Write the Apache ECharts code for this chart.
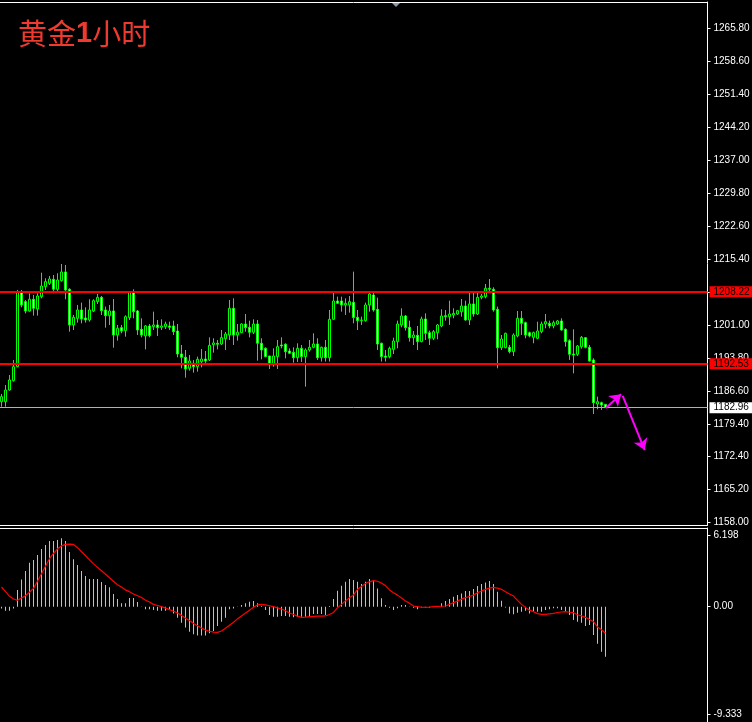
<!DOCTYPE html>
<html lang="zh">
<head>
    <meta charset="UTF-8">
    <title>黄金1小时</title>
    <script src="https://cdn.jsdelivr.net/npm/echarts@6/dist/echarts.min.js"></script>
    <style>
        html, body { margin: 0; padding: 0; background: #000; }
        #main { width: 752px; height: 722px; }
    </style>
</head>
<body>
<div id="main"></div>
<script type="text/javascript">
    // K线数据（开、收、低、高）
    var opens = [1184.26,1184.26,1186.81,1188.85,1191.9,1208.27,1206.09,1204.05,1206.6,1204.49,
        1207.18,1209.36,1210.09,1210.96,1208.78,1210.67,1212.56,1208.78,1201.0,1202.45,
        1204.27,1202.52,1202.09,1204.05,1206.09,1207.03,1204.27,1203.03,1204.05,1198.81,
        1200.41,1199.76,1202.6,1208.05,1204.05,1200.05,1198.6,1200.78,1200.63,1201.0,
        1200.49,1200.63,1200.78,1200.78,1199.68,1194.67,1193.94,1191.54,1192.63,1191.9,
        1192.99,1193.57,1193.36,1196.7,1197.0,1196.85,1198.01,1198.81,1204.63,1198.81,
        1199.32,1201.21,1200.49,1199.4,1201.21,1197.0,1195.9,1194.23,1192.41,1194.09,
        1196.63,1196.78,1195.32,1195.03,1193.87,1195.9,1194.09,1195.54,1196.12,1196.85,
        1193.87,1196.12,1193.87,1202.23,1206.23,1206.23,1205.36,1205.36,1205.94,1202.67,
        1201.94,1201.94,1205.36,1207.54,1204.41,1197.0,1194.23,1194.09,1195.68,1197.36,
        1201.0,1202.96,1200.49,1198.23,1198.74,1197.36,1202.3,1199.32,1198.09,1199.32,
        1200.78,1203.03,1202.81,1203.18,1203.39,1203.9,1205.14,1202.09,1205.58,1203.39,
        1207.03,1207.18,1209.0,1208.78,1204.41,1196.05,1196.05,1196.12,1195.18,1198.6,
        1202.45,1201.5,1199.32,1198.3,1198.09,1199.54,1201.21,1201.36,1200.78,1201.21,
        1201.87,1200.05,1197.58,1194.67,1194.6,1196.27,1198.23,1196.12,1193.36,1183.75,
        1184.05,1183.68];
    var closes = [1185.36,1186.81,1189.0,1191.9,1208.27,1205.36,1204.05,1206.6,1204.63,1207.32,
        1209.5,1210.45,1211.03,1208.78,1210.81,1212.56,1208.63,1201.0,1202.67,1204.27,
        1202.3,1202.09,1204.27,1206.3,1207.03,1204.12,1203.03,1204.05,1198.81,1200.27,
        1199.68,1202.81,1208.05,1203.9,1199.9,1198.81,1200.78,1198.67,1201.0,1200.41,
        1200.78,1201.21,1200.49,1199.54,1194.67,1193.94,1191.39,1193.14,1191.9,1193.5,
        1193.57,1193.14,1196.56,1197.07,1196.78,1198.23,1199.03,1204.63,1198.81,1199.4,
        1201.21,1200.41,1199.4,1201.21,1197.0,1195.54,1194.09,1192.41,1194.23,1196.27,
        1196.41,1195.18,1194.81,1193.87,1195.9,1194.09,1195.54,1196.12,1196.85,1193.87,
        1196.12,1193.87,1202.23,1206.23,1205.72,1205.36,1205.72,1206.09,1202.6,1201.94,
        1202.09,1205.36,1207.76,1204.27,1196.85,1194.09,1193.94,1195.9,1197.5,1201.21,
        1202.96,1200.41,1198.23,1198.81,1197.36,1202.3,1199.18,1198.09,1199.54,1201.0,
        1202.96,1202.81,1203.39,1203.54,1204.12,1205.14,1202.09,1205.58,1203.39,1207.03,
        1207.32,1209.0,1208.78,1204.27,1196.05,1197.94,1199.18,1195.18,1198.81,1202.45,
        1201.36,1198.81,1198.6,1199.32,1199.68,1201.21,1201.72,1200.78,1201.5,1201.87,
        1199.9,1197.36,1194.6,1194.45,1196.41,1198.3,1196.12,1193.14,1184.05,1184.26,
        1183.54,1182.96];
    var lows = [1183.17,1183.17,1186.66,1188.63,1191.75,1204.85,1203.54,1203.9,1203.03,1203.03,
        1206.81,1208.63,1209.72,1207.9,1208.27,1210.45,1206.6,1199.54,1199.9,1201.5,
        1201.36,1201.5,1201.72,1203.83,1205.58,1203.18,1200.41,1201.0,1196.05,1197.58,
        1199.18,1198.45,1202.09,1202.45,1198.81,1198.3,1195.68,1198.3,1199.9,1198.6,
        1199.9,1200.12,1199.9,1198.81,1193.94,1191.54,1189.5,1191.03,1190.59,1190.81,
        1191.75,1192.63,1193.14,1194.96,1195.68,1196.63,1195.54,1197.72,1196.63,1197.58,
        1199.18,1199.54,1198.3,1199.03,1193.21,1193.5,1193.94,1191.39,1191.9,1191.39,
        1195.9,1193.72,1194.67,1192.77,1192.92,1192.92,1187.54,1195.18,1195.9,1193.36,
        1193.0,1193.0,1193.0,1202.09,1205.58,1203.9,1203.18,1203.69,1201.36,1199.9,
        1201.0,1201.72,1203.9,1203.9,1195.54,1193.0,1193.0,1193.72,1194.67,1195.9,
        1200.49,1199.76,1197.36,1196.63,1195.54,1197.21,1197.72,1196.63,1197.72,1197.87,
        1200.49,1201.94,1201.0,1202.45,1203.18,1202.81,1201.94,1201.0,1202.81,1203.18,
        1206.6,1206.81,1208.05,1203.9,1191.54,1195.54,1195.9,1194.81,1194.23,1198.3,
        1198.81,1198.09,1198.3,1197.0,1197.87,1199.18,1200.27,1200.27,1200.27,1201.0,
        1199.76,1196.27,1193.36,1190.45,1194.23,1195.83,1195.9,1193.0,1181.57,1182.59,
        1182.45,1182.9];
    var highs = [1185.94,1187.9,1190.08,1193.36,1208.63,1208.63,1206.45,1207.9,1207.54,1207.9,
        1212.41,1211.18,1211.69,1211.9,1212.27,1214.3,1214.09,1209.0,1203.18,1205.36,
        1205.87,1204.85,1206.6,1206.6,1207.76,1207.32,1205.0,1205.36,1206.67,1201.0,
        1201.0,1203.1,1208.27,1208.78,1204.27,1202.45,1201.0,1201.21,1203.9,1202.09,
        1202.23,1201.72,1201.72,1201.94,1201.21,1196.63,1195.54,1194.45,1193.36,1194.09,
        1195.76,1195.32,1198.3,1198.09,1197.72,1199.9,1199.47,1206.45,1206.81,1201.21,
        1201.36,1203.39,1201.94,1202.23,1202.09,1198.09,1196.12,1194.23,1195.9,1197.72,
        1198.3,1197.0,1195.9,1196.12,1197.0,1196.63,1195.9,1197.72,1199.18,1198.09,
        1196.27,1197.72,1204.27,1208.27,1207.18,1207.18,1206.81,1207.32,1212.63,1204.27,
        1202.81,1205.87,1208.27,1208.27,1206.96,1197.14,1195.54,1196.27,1198.23,1201.94,
        1204.63,1203.18,1201.94,1199.68,1200.78,1202.81,1203.54,1199.76,1199.9,1201.21,
        1204.41,1204.27,1206.3,1204.63,1204.27,1206.67,1206.3,1208.27,1208.27,1208.05,
        1207.76,1209.94,1211.03,1209.21,1205.0,1198.81,1199.32,1196.63,1199.18,1204.05,
        1204.05,1201.72,1199.54,1199.54,1201.72,1201.72,1203.39,1201.94,1201.94,1202.09,
        1202.45,1200.27,1197.87,1200.05,1196.63,1198.6,1198.3,1196.63,1193.72,1185.36,
        1184.26,1183.75];

    // MACD 柱和信号线
    var macdHist = [-0.15,-0.35,-0.35,-0.15,1.44,2.36,3.08,3.8,4.03,4.47,
        4.98,5.33,5.68,5.68,5.76,5.91,5.68,4.72,4.09,3.6,
        3.08,2.65,2.39,2.39,2.39,2.13,1.87,1.67,1.09,0.66,
        0.29,0.29,0.75,0.75,0.4,0.02,-0.23,-0.23,-0.29,-0.35,
        -0.35,-0.35,-0.29,-0.58,-0.95,-1.38,-1.79,-2.16,-2.39,-2.5,
        -2.5,-2.5,-2.3,-2.1,-1.67,-1.3,-0.95,-0.23,-0.15,0.02,
        0.14,0.29,0.43,0.49,0.29,0.05,-0.29,-0.72,-0.86,-0.86,
        -0.81,-0.81,-0.86,-0.92,-0.86,-0.86,-0.86,-0.81,-0.63,-0.63,
        -0.63,-0.72,0.06,0.66,1.38,1.82,2.16,2.39,2.3,2.16,
        1.96,2.16,2.39,2.25,1.58,0.72,0.14,-0.09,-0.29,-0.14,
        0.14,0.14,0.02,-0.09,-0.23,-0.06,-0.06,-0.09,0.02,0.02,
        0.29,0.49,0.66,0.86,1.0,1.15,1.35,1.35,1.53,1.79,
        1.95,2.1,2.22,1.96,1.3,0.52,-0.06,-0.58,-0.66,-0.52,
        -0.43,-0.35,-0.58,-0.43,-0.43,-0.43,-0.29,-0.23,-0.14,-0.14,
        -0.29,-0.43,-0.72,-1.15,-1.3,-1.38,-1.67,-1.58,-2.44,-3.2,
        -3.89,-4.32];
    var macdSignal = [1.7,1.3,0.9,0.66,0.55,0.75,0.95,1.25,1.58,2.2,
        2.85,3.5,4.15,4.6,5.0,5.25,5.38,5.4,5.38,5.1,
        4.75,4.4,4.05,3.7,3.4,3.1,2.8,2.5,2.2,1.9,
        1.7,1.45,1.3,1.1,0.95,0.8,0.55,0.4,0.2,0.1,
        0,-0.12,-0.25,-0.4,-0.55,-0.75,-1.0,-1.2,-1.45,-1.65,
        -1.85,-2.02,-2.12,-2.2,-2.22,-2.1,-1.87,-1.6,-1.35,-1.05,
        -0.8,-0.55,-0.3,-0.05,0.15,0.2,0.15,0.08,0,-0.1,
        -0.2,-0.35,-0.55,-0.68,-0.82,-0.92,-0.9,-0.86,-0.84,-0.81,
        -0.81,-0.8,-0.68,-0.5,-0.1,0.2,0.5,0.78,1.0,1.5,
        1.75,2.0,2.15,2.25,2.2,2.05,1.8,1.45,1.2,1.0,
        0.75,0.5,0.3,0.05,0,-0.05,-0.06,-0.04,0,0.02,
        0.04,0.06,0.2,0.35,0.48,0.65,0.78,0.88,1.0,1.2,
        1.35,1.5,1.6,1.67,1.6,1.5,1.3,1.1,0.92,0.55,
        0.2,-0.06,-0.3,-0.43,-0.6,-0.66,-0.66,-0.62,-0.58,-0.5,
        -0.46,-0.43,-0.48,-0.52,-0.7,-0.8,-0.92,-1.1,-1.3,-1.75,
        -2.0,-2.3];

    // 坐标轴刻度
    var priceTicks = [1158.0,1165.2,1172.4,1179.4,1186.6,1193.8,1201.0,1208.2,
        1215.4,1222.6,1229.8,1237.0,1244.2,1251.4,1258.6,1265.8];
    var macdTicks = [6.198, 0, -9.333];
    var macdTickText = ['6.198', '0.00', '-9.333'];

    // 水平线：支撑/阻力与现价
    var levelLines = [1208.22, 1192.53];
    var lastPrice = 1182.96;

    // 手绘箭头（x 为K线序号）
    var arrowSegments = [
        [[151.1, 1182.9], [154.9, 1185.9]],
        [[155.3, 1185.5], [160.8, 1173.7]]
    ];

    var slots = 177;
    var cats = [];
    for (var i = 0; i < slots; i++) cats.push(String(i));
    var kdata = opens.map(function (o, i) { return [o, closes[i], lows[i], highs[i]]; });

    var myChart = echarts.init(document.getElementById('main'));

    var boxLabel = function (bg) {
        return {
            show: true, position: 'end', distance: 2,
            formatter: function (p) { return p.value.toFixed(2); },
            backgroundColor: bg, color: '#000', fontSize: 10,
            fontFamily: 'Liberation Sans', padding: [1, 4, 0, 4]
        };
    };
    var markData = levelLines.map(function (v) {
        return { yAxis: v, lineStyle: { color: '#ff0000', width: 2, type: 'solid' }, label: boxLabel('#ff0000') };
    });
    markData.push({ yAxis: lastPrice, lineStyle: { color: '#b0b0b0', width: 1, type: 'solid' }, label: boxLabel('#ffffff') });

    var hiddenAxisParts = { axisTick: { show: false }, axisLabel: { show: false }, splitLine: { show: false } };

    var option = {
        backgroundColor: '#000',
        animation: false,
        title: {
            text: '黄金{b|1}小时',
            left: 13, top: 14,
            textStyle: {
                color: '#f03a30', fontSize: 29, fontWeight: 'normal',
                fontFamily: 'Noto Sans CJK SC',
                rich: { b: { color: '#f03a30', fontSize: 29, fontWeight: 'bold', fontFamily: 'Liberation Sans' } }
            }
        },
        grid: [
            { left: -0.5, right: 44.5, top: 2, height: 523, outerBoundsMode: 'none' },
            { left: -0.5, right: 44.5, top: 528, height: 194, outerBoundsMode: 'none' }
        ],
        xAxis: [
            Object.assign({
                type: 'category', gridIndex: 0, data: cats, boundaryGap: true,
                axisLine: { show: true, onZero: false, lineStyle: { color: '#fff' } }
            }, hiddenAxisParts),
            Object.assign({
                type: 'value', gridIndex: 0, min: -0.5, max: slots - 0.5, position: 'top',
                axisLine: { show: true, onZero: false, lineStyle: { color: '#fff' } }
            }, hiddenAxisParts),
            Object.assign({
                type: 'category', gridIndex: 1, data: cats, boundaryGap: true, position: 'top',
                axisLine: { show: true, onZero: false, lineStyle: { color: '#fff' } }
            }, hiddenAxisParts)
        ],
        yAxis: [
            {
                type: 'value', gridIndex: 0, position: 'right', min: 1157.35, max: 1271.47,
                axisLine: { show: true, onZero: false, lineStyle: { color: '#fff' } },
                axisTick: { show: true, length: 3, customValues: priceTicks, lineStyle: { color: '#fff' } },
                axisLabel: {
                    customValues: priceTicks, color: '#fff', fontSize: 10, fontFamily: 'Liberation Sans', margin: 6,
                    formatter: function (v) { return v.toFixed(2); }
                },
                splitLine: { show: false }
            },
            {
                type: 'value', gridIndex: 1, position: 'right', min: -9.965, max: 6.80,
                axisLine: { show: true, onZero: false, lineStyle: { color: '#fff' } },
                axisTick: { show: true, length: 3, customValues: macdTicks, lineStyle: { color: '#fff' } },
                axisLabel: {
                    customValues: macdTicks, color: '#fff', fontSize: 10, fontFamily: 'Liberation Sans', margin: 6,
                    formatter: function (v) {
                        var j = macdTicks.indexOf(v);
                        return j >= 0 ? macdTickText[j] : '';
                    }
                },
                splitLine: { show: false }
            }
        ],
        graphic: [
            { type: 'polygon', shape: { points: [[391, 2], [401, 2], [396, 7]] }, style: { fill: '#8a9aaa' } }
        ],
        series: [
            {
                name: '黄金', type: 'candlestick', xAxisIndex: 0, yAxisIndex: 0,
                data: kdata, barWidth: 2,
                itemStyle: { color: '#000', color0: '#fff', borderColor: '#00ff00', borderColor0: '#00ff00', borderColorDoji: '#00ff00', borderWidth: 1 },
                markLine: { symbol: ['none', 'none'], silent: true, animation: false, data: markData }
            },
            {
                type: 'lines', coordinateSystem: 'cartesian2d', xAxisIndex: 1, yAxisIndex: 0,
                symbol: ['none', 'arrow'], symbolSize: 11,
                lineStyle: { color: '#ff00ff', width: 2, opacity: 1 },
                data: arrowSegments.map(function (s) { return { coords: s }; }),
                z: 5
            },
            {
                name: 'MACD', type: 'bar', xAxisIndex: 2, yAxisIndex: 1,
                data: macdHist, barWidth: 1, itemStyle: { color: '#c0c0c0' }
            },
            {
                name: 'Signal', type: 'line', xAxisIndex: 2, yAxisIndex: 1,
                data: macdSignal, symbol: 'none', lineStyle: { color: '#ff0000', width: 1.2 }
            }
        ]
    };

    myChart.setOption(option);
</script>
</body>
</html>
